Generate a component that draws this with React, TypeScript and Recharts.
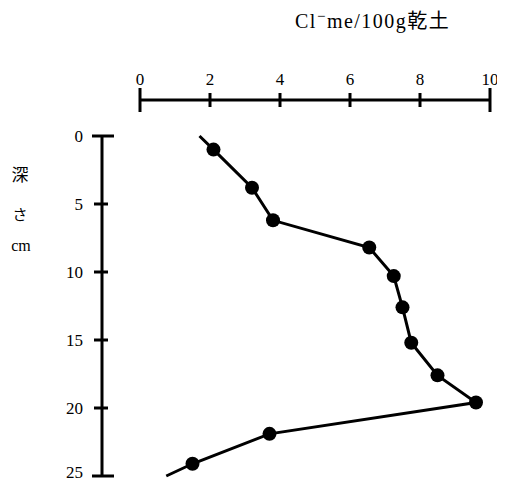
import React from 'react';
import { ScatterChart, Scatter, XAxis, YAxis } from 'recharts';

const depthCm = [1.0, 3.8, 6.2, 8.2, 10.3, 12.6, 15.2, 17.6, 19.6, 21.9, 24.1];
const chloride = [2.1, 3.2, 3.8, 6.55, 7.25, 7.5, 7.75, 8.5, 9.6, 3.7, 1.5];
const lineStart = { cl: 1.7, depth: 0 };
const lineEnd = { cl: 0.75, depth: 25 };
const xTicks = [0, 2, 4, 6, 8, 10];
const yTicks = [0, 5, 10, 15, 20, 25];

const data = [
  { ...lineStart, measured: false },
  ...depthCm.map((d, i) => ({ cl: chloride[i], depth: d, measured: true })),
  { ...lineEnd, measured: false },
];

const FONT = "'Liberation Serif', 'Noto Sans CJK JP', serif";

const XTick = (props: any) => {
  const { x, y, payload } = props;
  const v = payload.value;
  const end = v === xTicks[0] || v === xTicks[xTicks.length - 1];
  const h = end ? 12 : 7;
  return (
    <g>
      <line x1={x} x2={x} y1={y - h} y2={y + h} stroke="#000" strokeWidth={3} />
      <text x={x} y={y - 15} textAnchor="middle" fontSize={17} fontFamily={FONT} fill="#000">
        {v}
      </text>
    </g>
  );
};

const YTick = (props: any) => {
  const { x, y, payload } = props;
  const v = payload.value;
  const first = v === yTicks[0];
  const last = v === yTicks[yTicks.length - 1];
  const end = first || last;
  const l = end ? 10 : 8;
  const r = end ? 12 : 6;
  return (
    <g>
      <line x1={x - l} x2={x + r} y1={y} y2={y} stroke="#000" strokeWidth={3} />
      <text x={x - 19} y={last ? y + 2 : y + 6} textAnchor="end" fontSize={17} fontFamily={FONT} fill="#000">
        {v}
      </text>
    </g>
  );
};

const Dot = (props: any) => {
  const { cx, cy, payload } = props;
  if (!payload || !payload.measured) return <g />;
  return <circle cx={cx} cy={cy} r={7} fill="#000" />;
};

export default function App() {
  return (
    <ScatterChart
      width={497}
      height={476}
      margin={{ top: 62, right: 15, bottom: 8, left: 34 }}
    >
      <XAxis
        type="number"
        dataKey="cl"
        orientation="top"
        domain={[0, 10]}
        ticks={xTicks}
        padding={{ left: 38, right: 0 }}
        height={30}
        tickSize={0}
        tickMargin={0}
        tickLine={false}
        axisLine={{ stroke: '#000', strokeWidth: 3, strokeDasharray: '0 38 350 100' }}
        tick={<XTick />}
        interval={0}
      />
      <YAxis
        type="number"
        dataKey="depth"
        reversed
        domain={[0, 25]}
        ticks={yTicks}
        padding={{ top: 36, bottom: 0 }}
        width={60}
        tickSize={0}
        tickMargin={0}
        tickLine={false}
        axisLine={{ stroke: '#000', strokeWidth: 3, strokeDasharray: '0 36 340 100' }}
        tick={<YTick />}
        interval={0}
      />
      <Scatter
        data={data}
        fill="#000"
        line={{ stroke: '#000', strokeWidth: 3 }}
        lineType="joint"
        shape={<Dot />}
        isAnimationActive={false}
      />
      <text x={287} y={20} fontSize={20} letterSpacing={1.5} fontFamily={FONT} fill="#000">
        Cl
        <tspan dy={-7} fontSize={15}>−</tspan>
        <tspan dy={7}>me/100g乾土</tspan>
      </text>
      <text x={12} y={167} textAnchor="middle" dominantBaseline="central" fontSize={17} fontFamily={FONT} fill="#000">深</text>
      <text x={12} y={207} textAnchor="middle" dominantBaseline="central" fontSize={15} fontFamily={FONT} fill="#000">さ</text>
      <text x={13} y={237} textAnchor="middle" dominantBaseline="central" fontSize={16} fontFamily={FONT} fill="#000">cm</text>
    </ScatterChart>
  );
}
